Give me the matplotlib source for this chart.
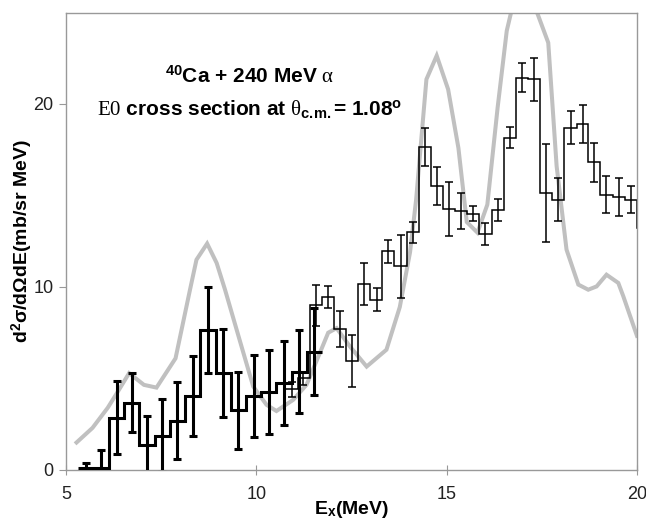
import numpy as np
import matplotlib
matplotlib.use("Agg")
import matplotlib.pyplot as plt

plt.rcParams['font.family'] = ['Liberation Sans', 'DejaVu Sans']
plt.rcParams['mathtext.fontset'] = 'custom'
plt.rcParams['mathtext.rm'] = 'Liberation Sans:bold'
plt.rcParams['mathtext.bf'] = 'Liberation Sans:bold'
plt.rcParams['mathtext.it'] = 'Liberation Serif'
plt.rcParams['mathtext.sf'] = 'Liberation Serif'

# thick histogram (low-energy data)
thick_x = [5.53, 5.93, 6.33, 6.73, 7.13, 7.53, 7.93, 8.33, 8.73, 9.13, 9.53, 9.93,
           10.33, 10.73, 11.13, 11.53]
thick_y = [0.1, 0.1, 2.86, 3.68, 1.37, 1.88, 2.68, 4.05, 7.64, 5.29, 3.25, 4.05,
           4.25, 4.75, 5.38, 6.47]
thick_err = [0.3, 1.0, 2.0, 1.6, 1.6, 2.0, 2.1, 2.2, 2.35, 2.4, 2.1, 2.25,
             2.3, 2.3, 2.25, 2.4]

# thin histogram (high-energy data)
thin_x = [10.93, 11.24, 11.57, 11.89, 12.20, 12.52, 12.84, 13.16, 13.47, 13.79,
          14.12, 14.43, 14.75, 15.07, 15.39, 15.70, 16.02, 16.34, 16.66, 16.99,
          17.30, 17.61, 17.93, 18.26, 18.57, 18.88, 19.20, 19.53, 19.84, 20.16]
thin_y = [4.4, 5.0, 9.0, 9.43, 7.70, 5.97, 10.16, 9.31, 11.95, 11.13,
          12.99, 17.66, 15.51, 14.27, 14.14, 14.01, 12.9, 14.23, 18.15, 21.44,
          21.35, 15.14, 14.78, 18.7, 18.92, 16.82, 15.05, 14.93, 14.78, 13.23]
thin_err = [0.4, 0.35, 1.13, 0.6, 0.98, 1.41, 1.13, 0.62, 0.62, 1.73,
            0.57, 1.05, 1.03, 1.48, 0.97, 0.41, 0.62, 0.6, 0.57, 0.8,
            1.19, 2.7, 1.18, 0.91, 1.03, 1.07, 0.99, 1.05, 0.73, 0.0]

# gray calculation curve
calc_x = [5.28, 5.70, 6.10, 6.40, 6.66, 7.05, 7.38, 7.88, 8.26, 8.43, 8.71, 8.96,
          9.18, 9.55, 9.92, 10.27, 10.53, 10.97, 11.32, 11.67, 11.89, 12.11, 12.46,
          12.90, 13.42, 13.77, 14.04, 14.20, 14.47, 14.74, 15.04, 15.31, 15.53,
          15.81, 16.07, 16.34, 16.58, 16.75, 17.05, 17.36, 17.67, 17.89, 18.15,
          18.46, 18.72, 18.94, 19.20, 19.51, 19.64, 20.0]
calc_y = [1.5, 2.3, 3.4, 4.4, 5.29, 4.65, 4.5, 6.1, 9.85, 11.49, 12.37, 11.31,
          9.85, 7.2, 4.56, 3.56, 3.22, 3.83, 4.65, 6.39, 7.5, 7.75, 6.75,
          5.65, 6.57, 8.9, 11.9, 14.78, 21.35, 22.64, 20.8, 17.6, 13.55,
          12.97, 14.5, 19.8, 24.0, 25.5, 27.5, 25.09, 23.35, 16.6, 12.04,
          10.13, 9.85, 10.03, 10.67, 10.22, 9.5, 7.33]


def edges_from_centers(c):
    c = np.asarray(c, float)
    mids = (c[:-1] + c[1:]) / 2
    return np.concatenate([[c[0] - (c[1] - c[0]) / 2], mids, [c[-1] + (c[-1] - c[-2]) / 2]])


fig = plt.figure(figsize=(6.46, 5.21), dpi=100)
ax = fig.add_axes([0.102, 0.098, 0.884, 0.878])

ax.plot(calc_x, calc_y, color='#c0c0c0', lw=2.9, solid_joinstyle='miter', zorder=1)

ax.stairs(thick_y, edges_from_centers(thick_x), baseline=None, color='black', lw=2.2, zorder=3)
ax.errorbar(thick_x, thick_y, yerr=thick_err, fmt='none', ecolor='black',
            elinewidth=2.2, capsize=3, capthick=2.2, zorder=3)

ax.stairs(thin_y, edges_from_centers(thin_x), baseline=None, color='black', lw=1.1, zorder=2)
ax.errorbar(thin_x[:-1], thin_y[:-1], yerr=thin_err[:-1], fmt='none', ecolor='black',
            elinewidth=1.1, capsize=2.7, capthick=1.1, zorder=2)

ax.set_xlim(5, 20)
ax.set_ylim(0, 25)
ax.set_xticks([5, 10, 15, 20])
ax.set_yticks([0, 10, 20])
for s in ax.spines.values():
    s.set_color('#999999')
    s.set_linewidth(1.0)
ax.tick_params(axis='x', direction='inout', length=7, color='#999999', labelsize=13, pad=8,
               labelcolor='#222222')
ax.tick_params(axis='y', direction='out', length=5, color='#999999', labelsize=13, pad=4,
               labelcolor='#222222')

ax.set_xlabel(r'E$_{\mathrm{x}}$(MeV)', fontsize=14, fontweight='bold', labelpad=-3)
ax.set_ylabel(r'd$^{\mathrm{2}}$σ/dΩdE(mb/sr MeV)', fontsize=14, fontweight='bold', labelpad=-1)

ax.text(9.83, 21.5, r'$^{40}$Ca + 240 MeV $\alpha$', ha='center', va='center',
        fontsize=15, fontweight='bold')
ax.text(9.83, 19.75, r'$\mathsf{E0}$ cross section at $\theta_{\mathrm{c.\!m.}}$= 1.08$^{\mathrm{o}}$',
        ha='center', va='center', fontsize=15, fontweight='bold')

fig.savefig('out.png', dpi=100)
